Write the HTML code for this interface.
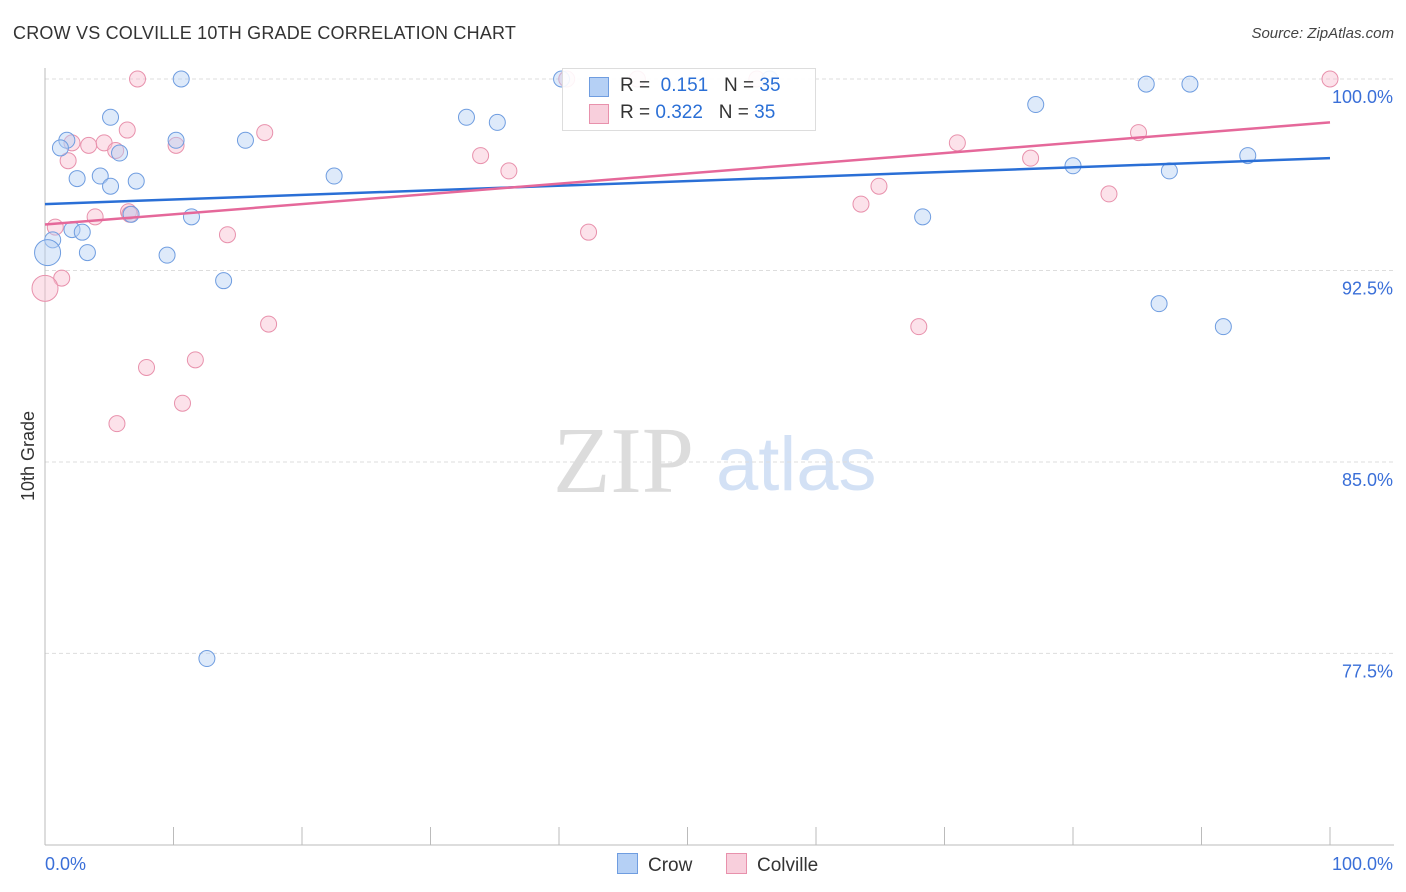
<!DOCTYPE html>
<html><head><meta charset="utf-8">
<style>
body{margin:0;background:#fff;font-family:"Liberation Sans",sans-serif;}
#wrap{position:relative;width:1406px;height:892px;overflow:hidden;}
.t{position:absolute;white-space:nowrap;}
</style></head>
<body>
<div id="wrap">
<div class="t" style="left:13px;top:23px;font-size:18px;color:#333;letter-spacing:0.2px">CROW VS COLVILLE 10TH GRADE CORRELATION CHART</div>
<div class="t" style="right:12px;top:25px;font-size:15px;color:#444;font-style:italic">Source: ZipAtlas.com</div>
<svg id="chart" width="1406" height="892" style="position:absolute;left:0;top:0"></svg>
</div>
<script>
const crowX=[10.6,40.2,56.4,85.7,89.1,5.1,32.8,35.2,77.1,1.7,1.2,10.2,15.6,5.8,2.5,4.3,5.1,7.1,22.5,80,87.5,93.6,6.7,11.4,68.3,0.6,2.1,2.9,3.3,9.5,0.2,13.9,86.7,91.7,12.6];
const crowY=[100,100,100,99.8,99.8,98.5,98.5,98.3,99,97.6,97.3,97.6,97.6,97.1,96.1,96.2,95.8,96,96.2,96.6,96.4,97,94.7,94.6,94.6,93.7,94.1,94,93.2,93.1,93.2,92.1,91.2,90.3,77.3];
const colX=[7.2,40.6,46.1,55.4,100,6.4,17.1,4.6,3.4,2.1,5.5,10.2,1.8,33.9,36.1,71,76.7,85.1,82.8,64.9,63.5,3.9,6.5,0.8,14.2,42.3,1.3,0,17.4,68,11.7,7.9,10.7,5.6,6.6];
const colY=[100,100,100,100,100,98,97.9,97.5,97.4,97.5,97.2,97.4,96.8,97,96.4,97.5,96.9,97.9,95.5,95.8,95.1,94.6,94.8,94.2,93.9,94,92.2,91.8,90.4,90.3,89,88.7,87.3,86.5,94.7];
const yTicks=[100,92.5,85,77.5];
const yTickLabels=["100.0%","92.5%","85.0%","77.5%"];
const crowTrend=[95.1,96.9];
const colTrend=[94.3,98.3];
const NS="http://www.w3.org/2000/svg";
const svg=document.getElementById('chart');
const X=v=>45+v*12.85;
const Y=v=>79+(100-v)*25.53;
function mk(tag,attrs,parent){const e=document.createElementNS(NS,tag);for(const k in attrs)e.setAttribute(k,attrs[k]);(parent||svg).appendChild(e);return e;}
let w=mk('text',{x:553,y:492,'font-size':94,fill:'#dcdcdc','font-family':'Liberation Serif,serif'});w.textContent='ZIP';


let w2=mk('text',{x:716,y:490,'font-size':76,fill:'#d3e1f5','font-family':'Liberation Sans,sans-serif'});w2.textContent='atlas';


yTicks.forEach((t,i)=>{
 const g=mk('line',{x1:45,x2:1394,y1:Y(t),y2:Y(t),stroke:'#ddd','stroke-dasharray':'4,3'});
 
 
 const l=mk('text',{x:1393,y:Y(t)+24,'text-anchor':'end','font-size':18,fill:'#3a6fd8'});l.textContent=yTickLabels[i];
 
 
});
let ax=mk('line',{x1:45,x2:45,y1:68,y2:845,stroke:'#bbb'});


let bx=mk('line',{x1:45,x2:1394,y1:845,y2:845,stroke:'#bbb'});


for(let i=0;i<=10;i++){const tk=mk('line',{x1:X(i*10),x2:X(i*10),y1:827,y2:845,stroke:'#bbb'});
 
 }
let xl=mk('text',{x:45,y:870,'font-size':18,fill:'#3a6fd8'});xl.textContent='0.0%';


let xr=mk('text',{x:1393,y:870,'text-anchor':'end','font-size':18,fill:'#3a6fd8'});xr.textContent='100.0%';


let yt=mk('text',{x:34,y:456,'font-size':18,fill:'#333','text-anchor':'middle',transform:'rotate(-90 34 456)'});yt.textContent='10th Grade';


function pts(xs,ys,fill,stroke,name){xs.forEach((x,i)=>{
 const r=(x<0.5&&name==='crow-point')||(x===0&&name==='colville-point')?13:8;
 const c=mk('circle',{cx:X(x),cy:Y(ys[i]),r:r,fill:fill,stroke:stroke,'stroke-width':1,'fill-opacity':0.45});
 
 
});}
pts(colX,colY,'#f8bfd0','#e891ac','colville-point');
pts(crowX,crowY,'#b5d0f5','#6f9de0','crow-point');
let tl1=mk('line',{x1:X(0),x2:X(100),y1:Y(crowTrend[0]),y2:Y(crowTrend[1]),stroke:'#2a6fd6','stroke-width':2.5});


let tl2=mk('line',{x1:X(0),x2:X(100),y1:Y(colTrend[0]),y2:Y(colTrend[1]),stroke:'#e5689a','stroke-width':2.5});


</script>
<div class="t" style="left:562px;top:68px;width:252px;height:61px;border:1px solid #ddd;background:rgba(255,255,255,0.9);font-size:19px;">
 <div style="position:absolute;left:26px;top:8px;width:18px;height:18px;background:#b5d0f5;border:1px solid #6f9de0"></div>
 <div class="t" style="left:57px;top:6px;color:#333">R = <span style="color:#2a6fd6">&nbsp;0.151</span>&nbsp;&nbsp;&nbsp;N = <span style="color:#2a6fd6">35</span></div>
 <div style="position:absolute;left:26px;top:35px;width:18px;height:18px;background:#f8cfdc;border:1px solid #e891ac"></div>
 <div class="t" style="left:57px;top:33px;color:#333">R = <span style="color:#2a6fd6">0.322</span>&nbsp;&nbsp;&nbsp;N = <span style="color:#2a6fd6">35</span></div>
</div>
<div class="t" style="left:617px;top:853px;font-size:19px;color:#333"><span style="display:inline-block;width:19px;height:19px;background:#b5d0f5;border:1px solid #6f9de0;vertical-align:-3px;margin-right:10px"></span>Crow</div>
<div class="t" style="left:726px;top:853px;font-size:19px;color:#333"><span style="display:inline-block;width:19px;height:19px;background:#f8cfdc;border:1px solid #e891ac;vertical-align:-3px;margin-right:10px"></span>Colville</div>
</body></html>
